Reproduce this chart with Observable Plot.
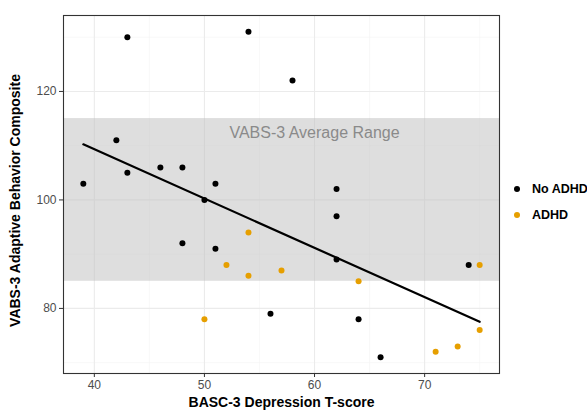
<!DOCTYPE html>
<html>
<head>
<meta charset="utf-8">
<script src="https://cdn.jsdelivr.net/npm/d3@7"></script>
<script src="https://cdn.jsdelivr.net/npm/@observablehq/plot@0.6"></script>
<style>
  html, body { margin: 0; padding: 0; background: #fff; }
  #wrap { position: relative; width: 587px; height: 413px; font-family: "Liberation Sans", Arial, sans-serif; }
  #legend { position: absolute; left: 511px; top: 176px; font-size: 12.5px; font-weight: bold; color: #000; white-space: nowrap; }
  .item { display: flex; align-items: center; height: 26px; }
  .sw { width: 6px; height: 6px; border-radius: 50%; margin-left: 3px; margin-right: 12px; flex: none; }
</style>
</head>
<body>
<div id="wrap"><div id="legend"></div></div>
<script>
// Data
const noAdhdX = [39, 42, 43, 43, 46, 48, 48, 50, 51, 51, 54, 56, 58, 62, 62, 62, 64, 66, 74];
const noAdhdY = [103, 111, 130, 105, 106, 106, 92, 100, 103, 91, 131, 79, 122, 102, 97, 89, 78, 71, 88];
const adhdX = [50, 52, 54, 54, 57, 64, 71, 73, 75, 75];
const adhdY = [78, 88, 94, 86, 87, 85, 72, 73, 88, 76];
const groups = ["No ADHD", "ADHD"];
const groupColors = ["#000000", "#E69F00"];
const xTicks = [40, 50, 60, 70];
const xMinor = [45, 55, 65, 75];
const yTicks = [80, 100, 120];
const yMinor = [70, 90, 110, 130];
const bandLow = 85, bandHigh = 115;
const bandLabel = "VABS-3 Average Range";
const bandLabelX = 60, bandLabelY = 112.3;

const data = [
  ...noAdhdX.map((x, i) => ({x, y: noAdhdY[i], group: groups[0]})),
  ...adhdX.map((x, i) => ({x, y: adhdY[i], group: groups[1]}))
];

const font = "Liberation Sans, Arial, sans-serif";
const chart = Plot.plot({
  width: 587,
  height: 413,
  marginLeft: 63,
  marginTop: 15,
  marginRight: 88,
  marginBottom: 40,
  style: { fontFamily: font, background: "#fff" },
  x: { domain: [37.2, 76.8], axis: null },
  y: { domain: [68, 134], axis: null },
  color: { domain: groups, range: groupColors },
  marks: [
    Plot.ruleX(xMinor, { stroke: "#f4f4f4", strokeWidth: 0.6 }),
    Plot.ruleY(yMinor, { stroke: "#f4f4f4", strokeWidth: 0.6 }),
    Plot.ruleX(xTicks, { stroke: "#ebebeb", strokeWidth: 1.1 }),
    Plot.ruleY(yTicks, { stroke: "#ebebeb", strokeWidth: 1.1 }),
    Plot.rect([{lo: bandLow, hi: bandHigh}], { y1: "lo", y2: "hi", fill: "#bdbdbd", fillOpacity: 0.5 }),
    Plot.text([bandLabel], { x: bandLabelX, y: bandLabelY, text: d => d, fill: "#8a8a8a", fontSize: 16 }),
    Plot.dot(data, { x: "x", y: "y", fill: "group", r: 3 }),
    Plot.linearRegressionY(data, { x: "x", y: "y", stroke: "#000", strokeWidth: 2.2, ci: 0 }),
    Plot.frame({ stroke: "#333333", strokeWidth: 1.1 }),
    Plot.axisX(xTicks, { tickSize: 4, tickPadding: 3, fontSize: 12, color: "#4d4d4d", stroke: "#333333", label: null }),
    Plot.axisY(yTicks, { tickSize: 4, tickPadding: 3, fontSize: 12, color: "#4d4d4d", stroke: "#333333", label: null }),
    Plot.text(["BASC-3 Depression T-score"], { frameAnchor: "bottom", dy: 33, text: d => d, fontSize: 14, fontWeight: "bold", fill: "#000" }),
    Plot.text(["VABS-3 Adaptive Behavior Composite"], { frameAnchor: "left", textAnchor: "middle", dx: -48, dy: 6, rotate: -90, text: d => d, fontSize: 14, fontWeight: "bold", fill: "#000" })
  ]
});
document.getElementById("wrap").prepend(chart);

const legend = document.getElementById("legend");
groups.forEach((g, i) => {
  const item = document.createElement("div");
  item.className = "item";
  const sw = document.createElement("span");
  sw.className = "sw";
  sw.style.background = groupColors[i];
  item.appendChild(sw);
  item.appendChild(document.createTextNode(g));
  legend.appendChild(item);
});
</script>
</body>
</html>
